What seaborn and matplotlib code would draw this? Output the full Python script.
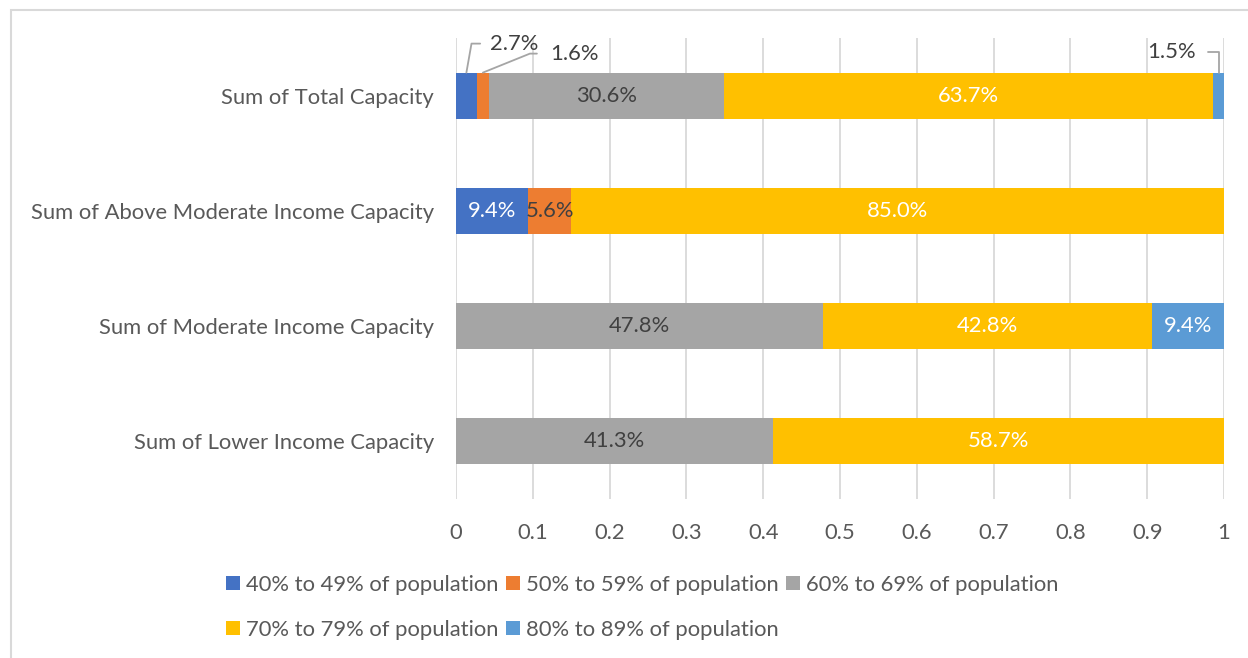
import matplotlib
matplotlib.use("Agg")
import matplotlib.pyplot as plt
from matplotlib.patches import Patch, Rectangle
import numpy as np
import seaborn as sns

categories = [
    "Sum of Total Capacity",
    "Sum of Above Moderate Income Capacity",
    "Sum of Moderate Income Capacity",
    "Sum of Lower Income Capacity",
]
series_names = [
    "40% to 49% of population",
    "50% to 59% of population",
    "60% to 69% of population",
    "70% to 79% of population",
    "80% to 89% of population",
]
share_40_49 = [0.027, 0.094, 0.0, 0.0]
share_50_59 = [0.016, 0.056, 0.0, 0.0]
share_60_69 = [0.306, 0.0, 0.478, 0.413]
share_70_79 = [0.637, 0.850, 0.428, 0.587]
share_80_89 = [0.015, 0.0, 0.094, 0.0]
x_ticks = [0, 0.1, 0.2, 0.3, 0.4, 0.5, 0.6, 0.7, 0.8, 0.9, 1.0]
x_tick_labels = ["0", "0.1", "0.2", "0.3", "0.4", "0.5", "0.6", "0.7", "0.8", "0.9", "1"]

colors = ["#4472C4", "#ED7D31", "#A5A5A5", "#FFC000", "#5B9BD5"]
label_colors = ["white", "#404040", "#404040", "white", "white"]
text_gray = "#595959"
fs = 15.8

sns.set_theme(style="white")
plt.rcParams["font.family"] = ["Lato", "DejaVu Sans"]

shares = np.array([share_40_49, share_50_59, share_60_69, share_70_79, share_80_89])
cum = np.cumsum(shares, axis=0)
starts = cum - shares

fig = plt.figure(figsize=(12.48, 6.58), dpi=100)
ax = fig.add_axes([0.3654, 0.2416, 0.6154, 0.7006])

# stacked bars: draw cumulative totals from the outermost segment inwards
for i in reversed(range(len(series_names))):
    sns.barplot(x=cum[i], y=categories, order=categories, orient="y",
                color=colors[i], saturation=1, width=0.4, linewidth=0, ax=ax)

ax.set_xlim(0, 1)
ax.set_ylim(3.5, -0.5)
ax.set_xticks(x_ticks)
ax.set_xticklabels(x_tick_labels)
ax.grid(axis="x", color="#D9D9D9", linewidth=1.3)
ax.set_axisbelow(True)
for s in ax.spines.values():
    s.set_visible(False)
ax.tick_params(axis="x", length=0, pad=17, labelsize=fs, labelcolor=text_gray)
ax.tick_params(axis="y", length=0, pad=16, labelsize=fs, labelcolor=text_gray)
ax.set_xlabel("")
ax.set_ylabel("")

# callouts for the thin segments: (series, category) -> offset px, alignment, leader angle
callouts = {
    (0, 0): (24, 29, "left", 80, 5),
    (1, 0): (67, 19, "left", 22, 7),
    (4, 0): (-23, 21, "right", 90, 6.5),
}

for i in range(len(series_names)):
    for j in range(len(categories)):
        v = shares[i, j]
        if v <= 0:
            continue
        label = f"{v * 100:.1f}%"
        xc = starts[i, j] + v / 2
        if (i, j) in callouts:
            dx, dy, ha, angB, gap = callouts[(i, j)]
            ax.annotate(label, xy=(xc, j - 0.2), xytext=(dx, dy),
                        textcoords="offset pixels", ha=ha, va="center",
                        fontsize=fs, color="#404040",
                        arrowprops=dict(arrowstyle="-", color="#A5A5A5", lw=1.3,
                                        shrinkA=gap, shrinkB=0,
                                        relpos=(0, 0.5) if ha == "left" else (1, 0.5),
                                        connectionstyle=f"angle,angleA=0,angleB={angB},rad=0"))
        else:
            ax.text(xc, j, label, ha="center", va="center", fontsize=fs,
                    color=label_colors[i])

handles = [Patch(facecolor=c, edgecolor="none") for c in colors]
order = [0, 3, 1, 4, 2]
fig.legend([handles[k] for k in order], [series_names[k] for k in order],
           ncol=3, loc="upper left", bbox_to_anchor=(226 / 1248, 1 - 575 / 658),
           frameon=False, handlelength=0.64, handleheight=0.6, handletextpad=0.27,
           columnspacing=0.33, labelspacing=1.13, borderpad=0, borderaxespad=0,
           fontsize=fs, labelcolor=text_gray)

fig.add_artist(Rectangle((11 / 1248, -0.05), 1.1, 1 - 10 / 658 + 0.05,
                         transform=fig.transFigure, fill=False,
                         edgecolor="#D9D9D9", linewidth=1.5))

fig.savefig("out.png", dpi=100, facecolor="white")
